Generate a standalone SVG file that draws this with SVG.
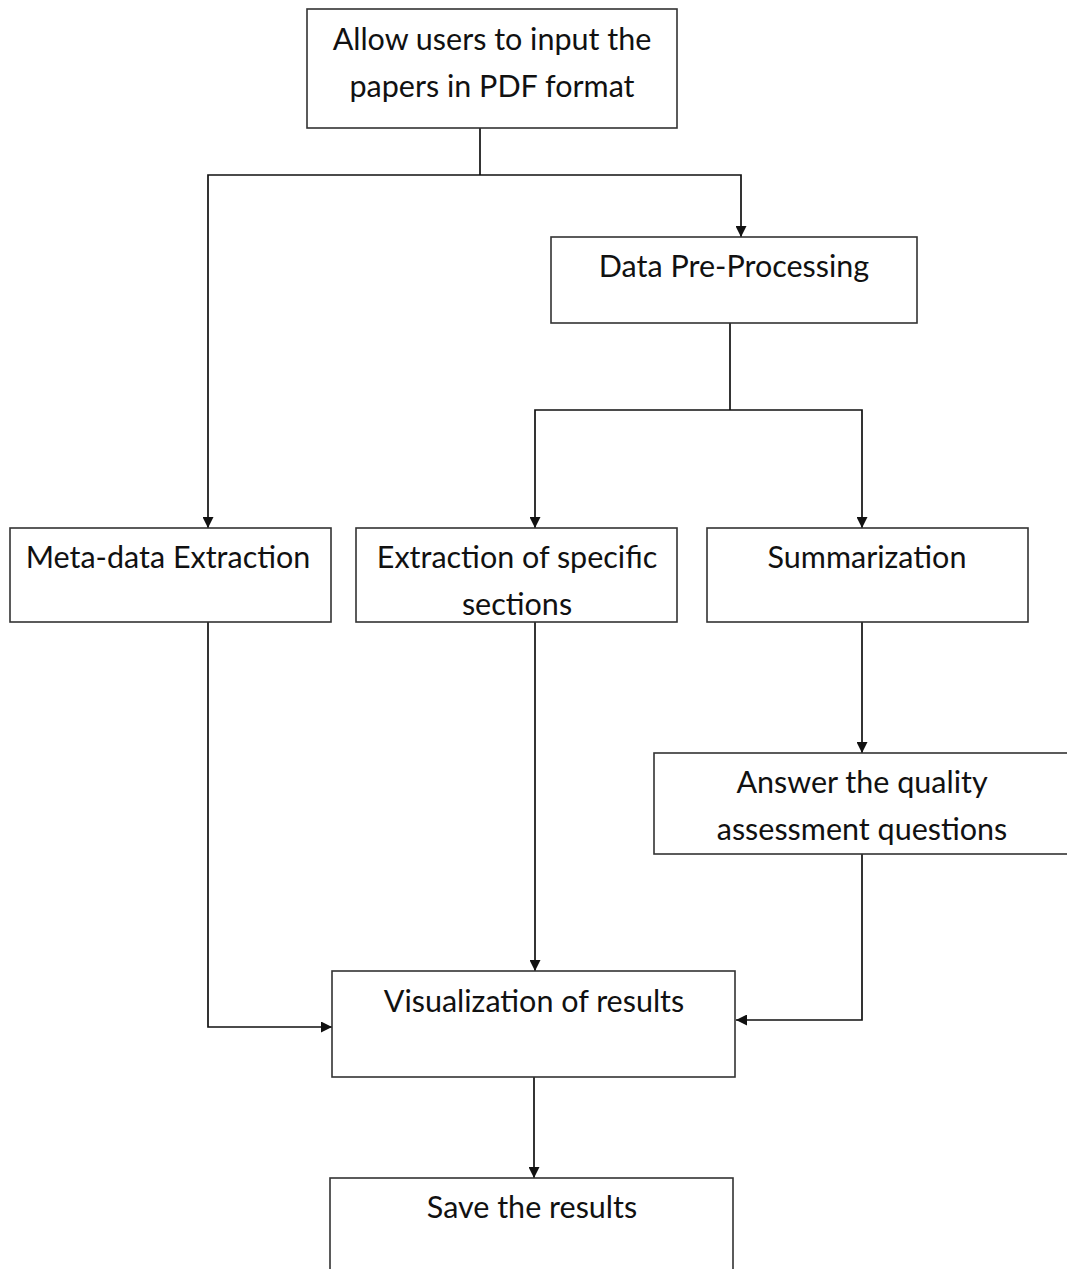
<svg xmlns="http://www.w3.org/2000/svg" width="1067" height="1269" viewBox="0 0 1067 1269">
<style>
.box{fill:#fff;stroke:#333;stroke-width:1.6}
.t{font-family:Lato,"Open Sans","Liberation Sans",sans-serif;font-size:30.5px;fill:#111;text-anchor:middle}
.c{fill:none;stroke:#111;stroke-width:1.7}
</style>
<defs>
<marker id="a" viewBox="0 0 10 10" refX="10" refY="5" markerWidth="12" markerHeight="11" markerUnits="userSpaceOnUse" orient="auto">
<path d="M0,0 L10,5 L0,10 z" fill="#111"/>
</marker>
</defs>
<rect width="1067" height="1269" fill="#fff"/>
<g id="connectors">
<path class="c" d="M480,128 V175"/>
<path class="c" d="M480,175 H208 V528" marker-end="url(#a)"/>
<path class="c" d="M480,175 H741 V237" marker-end="url(#a)"/>
<path class="c" d="M730,323 V410"/>
<path class="c" d="M730,410 H535 V528" marker-end="url(#a)"/>
<path class="c" d="M730,410 H862 V528" marker-end="url(#a)"/>
<path class="c" d="M862,622 V753" marker-end="url(#a)"/>
<path class="c" d="M862,854 V1020 H736" marker-end="url(#a)"/>
<path class="c" d="M535,622 V971" marker-end="url(#a)"/>
<path class="c" d="M208,622 V1027 H332" marker-end="url(#a)"/>
<path class="c" d="M534,1077 V1178" marker-end="url(#a)"/>
</g>
<g id="n1"><rect class="box" x="307" y="9" width="370" height="119"/>
<text class="t" x="492" y="50">Allow users to input the</text>
<text class="t" x="492" y="97">papers in PDF format</text></g>
<g id="n2"><rect class="box" x="551" y="237" width="366" height="86"/>
<text class="t" x="734" y="277">Data Pre-Processing</text></g>
<g id="n3"><rect class="box" x="10" y="528" width="321" height="94"/>
<text class="t" x="168" y="568">Meta-data Extraction</text></g>
<g id="n4"><rect class="box" x="356" y="528" width="321" height="94"/>
<text class="t" x="517" y="568">Extraction of specific</text>
<text class="t" x="517" y="615">sections</text></g>
<g id="n5"><rect class="box" x="707" y="528" width="321" height="94"/>
<text class="t" x="867" y="568">Summarization</text></g>
<g id="n6"><rect class="box" x="654" y="753" width="420" height="101"/>
<text class="t" x="862" y="793">Answer the quality</text>
<text class="t" x="862" y="840">assessment questions</text></g>
<g id="n7"><rect class="box" x="332" y="971" width="403" height="106"/>
<text class="t" x="534" y="1012">Visualization of results</text></g>
<g id="n8"><rect class="box" x="330" y="1178" width="403" height="100"/>
<text class="t" x="532" y="1218">Save the results</text></g>
</svg>
